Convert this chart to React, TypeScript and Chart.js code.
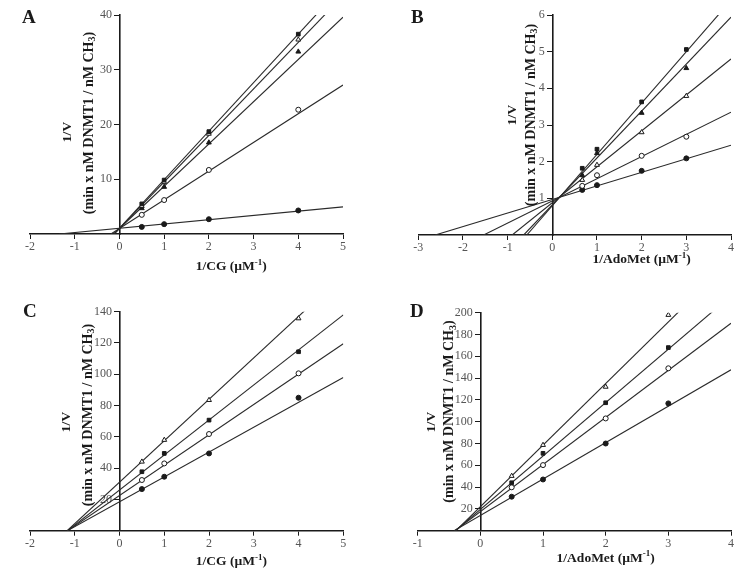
import React, { useEffect, useRef } from 'react';
import { Chart, registerables } from 'chart.js';
Chart.register(...registerables);

// ---------- Panel A : 1/V vs 1/CG ----------
const A_x = [0.5, 1, 2, 4];
const A_s1 = [5.5, 9.85, 18.7, 36.5];
const A_s2 = [5.1, 9.5, 18.3, 35.5];
const A_s3 = [4.7, 8.6, 16.7, 33.3];
const A_s4 = [3.5, 6.2, 11.7, 22.7];
const A_s5 = [1.3, 1.8, 2.7, 4.3];
const A_slopes = [8.86, 8.5, 7.72, 5.24, 0.78];
const A_intercepts = [1.07, 1.0, 1.0, 1.0, 1.05];
const A_xTicks = [-2, 5];
const A_yTicks = [0, 40, 10];

// ---------- Panel B : 1/V vs 1/AdoMet ----------
const B_x = [0.67, 1, 2, 3];
const B_s1 = [1.82, 2.34, 3.63, 5.06];
const B_s2 = [1.63, 2.23, 3.33, 4.55];
const B_s3 = [1.5, 1.91, 2.8, 3.79];
const B_s4 = [1.34, 1.63, 2.16, 2.68];
const B_s5 = [1.23, 1.36, 1.75, 2.09];
const B_slopes = [1.4, 1.28, 0.98, 0.605, 0.37];
const B_intercepts = [0.8, 0.82, 0.88, 0.93, 0.97];
const B_xTicks = [-3, 4];
const B_yTicks = [0, 6, 1];

// ---------- Panel C : 1/V vs 1/CG ----------
const C_x = [0.5, 1, 2, 4];
const C_s1 = [44.1, 58, 83.5, 135.7];
const C_s2 = [37.7, 49.4, 70.7, 114.4];
const C_s3 = [32.4, 43, 61.8, 100.6];
const C_s4 = [26.6, 34.5, 49.4, 85];
const C_slopes = [26.5, 22.4, 19.4, 15.9];
const C_intercepts = [31, 26, 22.5, 18.5];
const C_xTicks = [-2, 5];
const C_yTicks = [0, 140, 20];

// ---------- Panel D : 1/V vs 1/AdoMet ----------
const D_x = [0.5, 1, 2, 3];
const D_s1 = [50.2, 78.6, 132, 197.9];
const D_s2 = [44, 71, 117.4, 168];
const D_s3 = [39.8, 60.2, 103, 149];
const D_s4 = [31.2, 47, 80, 116.8];
const D_slopes = [56.5, 49, 43.2, 33.4];
const D_intercepts = [22, 19.5, 17.5, 14];
const D_xTicks = [-1, 4];
const D_yTicks = [0, 200, 20];

type Seg = { t: string; s?: 'sup' | 'sub' };
const SERIF = '"Liberation Serif", "Times New Roman", "DejaVu Serif", serif';

const X_TITLE_CG: Seg[] = [{ t: '1/CG (\u00b5M' }, { t: '-1', s: 'sup' }, { t: ')' }];
const X_TITLE_ADO: Seg[] = [{ t: '1/AdoMet (\u00b5M' }, { t: '-1', s: 'sup' }, { t: ')' }];
const Y_TITLE_1: Seg[] = [{ t: '1/V' }];
const Y_TITLE_2: Seg[] = [{ t: '(min x nM DNMT1 / nM CH' }, { t: '3', s: 'sub' }, { t: ')' }];

type Marker = { style: string; filled: boolean; r: number };
const SQ: Marker = { style: 'rect', filled: true, r: 2.6 };
const TRI_O: Marker = { style: 'triangle', filled: false, r: 2.8 };
const TRI_F: Marker = { style: 'triangle', filled: true, r: 2.8 };
const CIR_O: Marker = { style: 'circle', filled: false, r: 2.5 };
const CIR_F: Marker = { style: 'circle', filled: true, r: 2.5 };

function drawRich(ctx: CanvasRenderingContext2D, segs: Seg[], cx: number, cy: number, size: number) {
  const base = `bold ${size}px ${SERIF}`;
  const small = `bold ${Math.round(size * 0.68)}px ${SERIF}`;
  const widths = segs.map((s) => {
    ctx.font = s.s ? small : base;
    return ctx.measureText(s.t).width;
  });
  const total = widths.reduce((a, b) => a + b, 0);
  let x = cx - total / 2;
  ctx.textAlign = 'left';
  ctx.textBaseline = 'middle';
  segs.forEach((s, i) => {
    ctx.font = s.s ? small : base;
    const dy = s.s === 'sup' ? -size * 0.32 : s.s === 'sub' ? size * 0.28 : 0;
    ctx.fillText(s.t, x, cy + dy);
    x += widths[i];
  });
}

type PanelCfg = {
  letter: string;
  left: number;
  top: number;
  pad: { l: number; r: number; t: number };
  axisH: number;
  xr: number[];
  yr: number[];
  xs: number[];
  series: number[][];
  slopes: number[];
  intercepts: number[];
  markers: Marker[];
  xTitle: Seg[];
  xTitleCenterVal: number;
  xTitleY: number;
  y1: [number, number];
  y2: [number, number];
  letterPos: [number, number];
};

const PANELS: PanelCfg[] = [
  {
    letter: 'A', left: 0, top: 0, pad: { l: 30, r: 32, t: 15 }, axisH: 56,
    xr: A_xTicks, yr: A_yTicks, xs: A_x, series: [A_s1, A_s2, A_s3, A_s4, A_s5],
    slopes: A_slopes, intercepts: A_intercepts, markers: [SQ, TRI_O, TRI_F, CIR_O, CIR_F],
    xTitle: X_TITLE_CG, xTitleCenterVal: 2.5, xTitleY: 267, y1: [68, 132], y2: [89, 123], letterPos: [22, 23],
  },
  {
    letter: 'B', left: 375, top: 0, pad: { l: 43.3, r: 19, t: 15 }, axisH: 55,
    xr: B_xTicks, yr: B_yTicks, xs: B_x, series: [B_s1, B_s2, B_s3, B_s4, B_s5],
    slopes: B_slopes, intercepts: B_intercepts, markers: [SQ, TRI_F, TRI_O, CIR_O, CIR_F],
    xTitle: X_TITLE_ADO, xTitleCenterVal: 2, xTitleY: 260, y1: [138, 115], y2: [156, 115], letterPos: [36, 23],
  },
  {
    letter: 'C', left: 0, top: 290, pad: { l: 30, r: 31.7, t: 21.7 }, axisH: 49.3,
    xr: C_xTicks, yr: C_yTicks, xs: C_x, series: [C_s1, C_s2, C_s3, C_s4],
    slopes: C_slopes, intercepts: C_intercepts, markers: [TRI_O, SQ, CIR_O, CIR_F],
    xTitle: X_TITLE_CG, xTitleCenterVal: 2.5, xTitleY: 271.7, y1: [67, 132], y2: [88, 125], letterPos: [23, 27],
  },
  {
    letter: 'D', left: 375, top: 290, pad: { l: 42.7, r: 19, t: 22.7 }, axisH: 49.3,
    xr: D_xTicks, yr: D_yTicks, xs: D_x, series: [D_s1, D_s2, D_s3, D_s4],
    slopes: D_slopes, intercepts: D_intercepts, markers: [TRI_O, SQ, CIR_O, CIR_F],
    xTitle: X_TITLE_ADO, xTitleCenterVal: 2, xTitleY: 268.3, y1: [57, 132], y2: [74.5, 121.5], letterPos: [35, 27],
  },
];

function Panel({ cfg }: { cfg: PanelCfg }) {
  const ref = useRef<HTMLCanvasElement | null>(null);
  useEffect(() => {
    if (!ref.current) return;
    const [xMin, xMax] = cfg.xr;
    const [yMin, yMax, yStep] = cfg.yr;
    const datasets: any[] = [];
    cfg.series.forEach((vals, i) => {
      const m = cfg.markers[i];
      datasets.push({
        data: vals.map((v, j) => ({ x: cfg.xs[j], y: v })),
        showLine: false,
        pointStyle: m.style,
        pointRadius: m.r,
        pointBorderWidth: 1,
        pointBorderColor: '#1a1a1a',
        pointBackgroundColor: m.filled ? '#1a1a1a' : '#ffffff',
        order: 0,
      });
    });
    cfg.slopes.forEach((b, i) => {
      const a = cfg.intercepts[i];
      datasets.push({
        data: [
          { x: -a / b, y: 0 },
          { x: xMax, y: a + b * xMax },
        ],
        showLine: true,
        borderColor: '#2a2a2a',
        borderWidth: 1.1,
        pointRadius: 0,
        order: 1,
      });
    });

    const yLabelShift = {
      id: 'yLabelShift' + cfg.letter,
      beforeDraw(chart: any) {
        const s = chart.scales.y;
        const items = s.getLabelItems(chart.chartArea);
        if (items && !items._shifted) {
          items.forEach((it: any) => {
            it.options.translation[0] -= 7.5;
          });
          items._shifted = true;
        }
      },
    };

    const titlesPlugin = {
      id: 'titles' + cfg.letter,
      afterDraw(chart: any) {
        const ctx = chart.ctx as CanvasRenderingContext2D;
        ctx.save();
        ctx.fillStyle = '#1a1a1a';
        ctx.font = `bold 19px ${SERIF}`;
        ctx.textAlign = 'left';
        ctx.textBaseline = 'alphabetic';
        ctx.fillText(cfg.letter, cfg.letterPos[0], cfg.letterPos[1]);
        const xs = chart.scales.x;
        drawRich(ctx, cfg.xTitle, xs.getPixelForValue(cfg.xTitleCenterVal), cfg.xTitleY, 13.5);
        ctx.save();
        ctx.translate(cfg.y1[0], cfg.y1[1]);
        ctx.rotate(-Math.PI / 2);
        drawRich(ctx, Y_TITLE_1, 0, 0, 13.5);
        ctx.restore();
        ctx.save();
        ctx.translate(cfg.y2[0], cfg.y2[1]);
        ctx.rotate(-Math.PI / 2);
        drawRich(ctx, Y_TITLE_2, 0, 0, 14);
        ctx.restore();
        ctx.restore();
      },
    };

    const tickFont = { family: SERIF, size: 12 };
    const chart = new Chart(ref.current, {
      type: 'scatter',
      data: { datasets },
      plugins: [yLabelShift, titlesPlugin],
      options: {
        animation: false,
        responsive: false,
        devicePixelRatio: 1,
        layout: { padding: { left: cfg.pad.l, right: cfg.pad.r, top: cfg.pad.t, bottom: 0 } },
        plugins: { legend: { display: false }, tooltip: { enabled: false } },
        scales: {
          x: {
            type: 'linear',
            position: 'bottom',
            min: xMin,
            max: xMax,
            ticks: { stepSize: 1, color: '#555', font: tickFont, padding: 1, maxRotation: 0 },
            grid: { drawOnChartArea: false, drawTicks: true, tickLength: 5, color: '#1a1a1a', lineWidth: 1 },
            border: { display: true, color: '#1a1a1a', width: 1.6 },
            afterFit: (s: any) => {
              s.height = cfg.axisH;
            },
          },
          y: {
            type: 'linear',
            position: { x: 0 } as any,
            min: yMin,
            max: yMax,
            ticks: {
              stepSize: yStep,
              color: '#555',
              font: tickFont,
              callback: (v: any) => (v === 0 ? null : String(v)),
            },
            grid: { drawOnChartArea: false, drawTicks: true, tickLength: 5, color: '#1a1a1a', lineWidth: 1 },
            border: { display: true, color: '#1a1a1a', width: 1.6 },
          },
        },
      } as any,
    });
    return () => chart.destroy();
  }, [cfg]);
  return (
    <canvas
      ref={ref}
      width={375}
      height={290}
      style={{ position: 'absolute', left: cfg.left, top: cfg.top, width: 375, height: 290 }}
    />
  );
}

export default function App() {
  return (
    <div style={{ position: 'absolute', left: 0, top: 0, width: 750, height: 580, background: '#fff' }}>
      {PANELS.map((p) => (
        <Panel key={p.letter} cfg={p} />
      ))}
    </div>
  );
}
